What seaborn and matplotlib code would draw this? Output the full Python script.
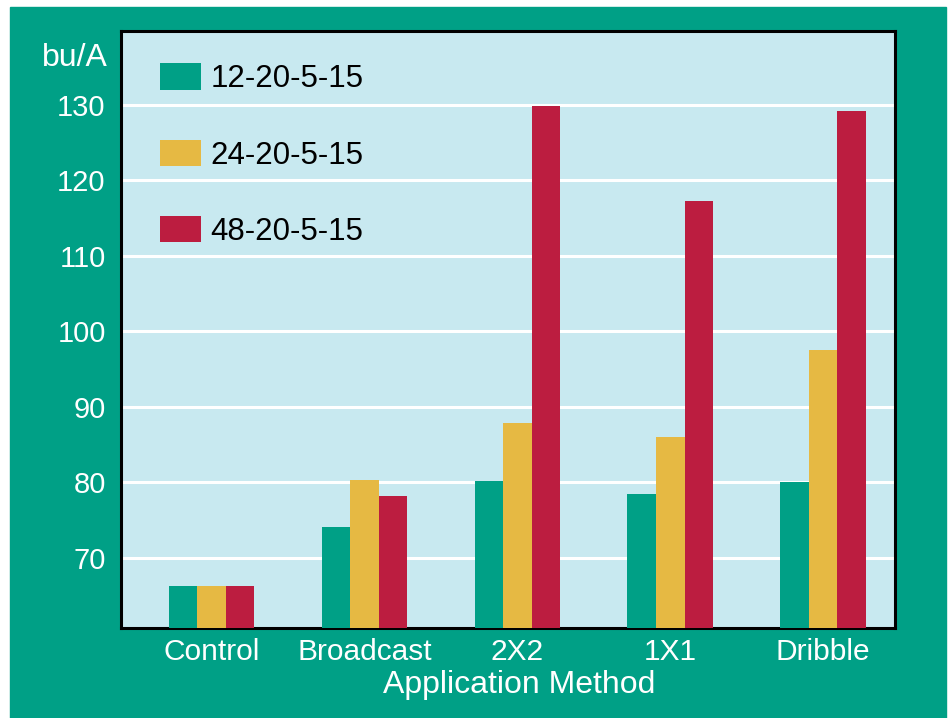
import pandas as pd
import seaborn as sns
import matplotlib.pyplot as plt
from matplotlib.patches import Rectangle

methods = ['Control', 'Broadcast', '2X2', '1X1', 'Dribble']
rate_12 = [66.3, 74.1, 80.2, 78.5, 80.0]
rate_24 = [66.3, 80.3, 87.9, 86.0, 97.5]
rate_48 = [66.3, 78.2, 129.9, 117.3, 129.2]
series = ['12-20-5-15', '24-20-5-15', '48-20-5-15']

teal = '#00A086'
yellow = '#E6B943'
red = '#BC1D40'
panel = '#C8E9F0'

rows = []
for name, vals in zip(series, [rate_12, rate_24, rate_48]):
    for m, v in zip(methods, vals):
        rows.append({'method': m, 'yield': v, 'blend': name})
df = pd.DataFrame(rows)

sns.set_style('white')
plt.rcParams['font.family'] = ['Liberation Sans', 'DejaVu Sans']

fig = plt.figure(figsize=(9.5, 7.18), dpi=100, facecolor='white')
# teal card behind everything, thin white margin on top/left/right
fig.patches.append(Rectangle((10 / 950, 0), 936 / 950, 711 / 718,
                             transform=fig.transFigure, color=teal, zorder=-10))
ax = fig.add_axes([121 / 950, 90 / 718, 774 / 950, 597 / 718])
ax.set_facecolor(panel)

sns.barplot(data=df, x='method', y='yield', hue='blend', order=methods,
            hue_order=series, palette=[teal, yellow, red], width=0.56,
            saturation=1, linewidth=0, edgecolor='none', ax=ax, zorder=3)

ax.set_xlim(-0.593, 4.47)
ax.set_ylim(60.7, 139.8)
ax.set_yticks([70, 80, 90, 100, 110, 120, 130])
ax.yaxis.grid(True, color='white', linewidth=2.2)
ax.set_axisbelow(True)
ax.tick_params(axis='both', length=0, labelsize=21, colors='white')
ax.tick_params(axis='x', labelsize=21.5, pad=7)
ax.tick_params(axis='y', pad=11)
for s in ax.spines.values():
    s.set_visible(True)
    s.set_color('black')
    s.set_linewidth(2.2)

ax.set_ylabel('')
ax.set_xlabel('Application Method', fontsize=23, color='white')
ax.xaxis.set_label_coords(0.514, -0.071)
ax.text(-0.017, 0.955, 'bu/A', transform=ax.transAxes, ha='right', va='center',
        fontsize=23, color='white')

ax.legend(loc='upper left', bbox_to_anchor=(0.0506, 0.946), frameon=False,
          fontsize=22.5, handlelength=1.32, handleheight=0.93, handletextpad=0.28,
          labelspacing=1.45, borderpad=0, borderaxespad=0, labelcolor='black')

fig.savefig('out.png', dpi=100, facecolor='white')
